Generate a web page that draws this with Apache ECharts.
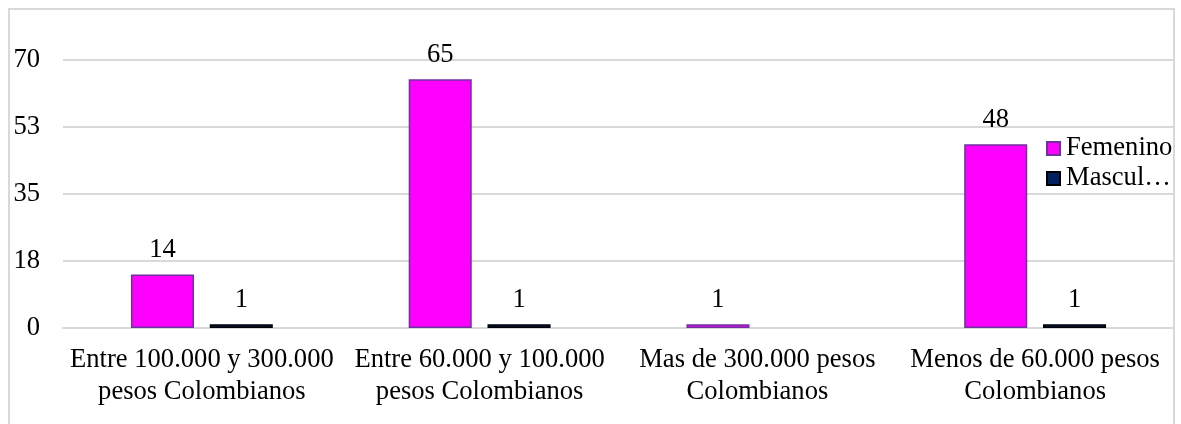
<!DOCTYPE html>
<html>
<head>
<meta charset="utf-8">
<script src="https://cdn.jsdelivr.net/npm/echarts@6/dist/echarts.min.js"></script>
<style>
  html, body { margin: 0; padding: 0; background: #ffffff; }
  #chart { width: 1181px; height: 424px; }
</style>
</head>
<body>
<div id="chart"></div>
<script>
// Income ranges (category axis), wrapped onto two lines
const categories = [
  'Entre 100.000 y 300.000\npesos Colombianos',
  'Entre 60.000 y 100.000\npesos Colombianos',
  'Mas de 300.000 pesos\nColombianos',
  'Menos de 60.000 pesos\nColombianos'
];
const seriesNames = ['Femenino', 'Masculino'];
const femenino = [14, 65, 1, 48];
const masculino = [1, 1, null, 1];
// Value axis: 0 to 70 in steps of 17.5, shown rounded
const yMin = 0;
const yMax = 70;
const yStep = 17.5;

const FONT = "'Liberation Serif', 'Times New Roman', serif";
const FS = 26.6;
const chart = echarts.init(document.getElementById('chart'), null, { renderer: 'canvas' });

const labelStyle = {
  show: true,
  position: 'top',
  distance: 11,
  color: '#000000',
  fontFamily: FONT,
  fontSize: FS
};

chart.setOption({
  animation: false,
  backgroundColor: '#ffffff',
  textStyle: { fontFamily: FONT },
  graphic: [{
    type: 'rect',
    silent: true,
    shape: { x: 9, y: 9, width: 1165, height: 440 },
    style: { fill: 'none', stroke: '#d9d9d9', lineWidth: 2 }
  }],
  grid: { left: 63, right: 7, top: 60, bottom: 96, containLabel: false },
  legend: {
    orient: 'vertical',
    left: 1041,
    top: 130,
    padding: 5,
    itemWidth: 13,
    itemHeight: 13,
    itemGap: 3,
    icon: 'rect',
    data: seriesNames,
    textStyle: {
      fontFamily: FONT,
      fontSize: FS,
      color: '#000000',
      lineHeight: 26,
      width: 110,
      overflow: 'truncate',
      ellipsis: '…',
      padding: [0, 0, 0, 1]
    }
  },
  xAxis: {
    type: 'category',
    data: categories,
    axisLine: { show: true, lineStyle: { color: '#d9d9d9', width: 2 } },
    axisTick: { show: false },
    axisLabel: {
      color: '#000000',
      fontFamily: FONT,
      fontSize: FS,
      lineHeight: 32,
      margin: 16,
      interval: 0
    }
  },
  yAxis: {
    type: 'value',
    min: yMin,
    max: yMax,
    interval: yStep,
    axisLine: { show: false },
    axisTick: { show: false },
    splitLine: { lineStyle: { color: '#d9d9d9', width: 2 } },
    axisLabel: {
      color: '#000000',
      fontFamily: FONT,
      fontSize: FS,
      margin: 23,
      formatter: v => String(Math.round(v))
    }
  },
  series: [
    {
      name: seriesNames[0],
      type: 'bar',
      data: femenino,
      barWidth: '22.7%',
      barGap: '25%',
      itemStyle: { color: '#ff00ff', borderColor: '#7030a0', borderWidth: 1.5 },
      label: labelStyle
    },
    {
      name: seriesNames[1],
      type: 'bar',
      data: masculino,
      barWidth: '22.7%',
      barGap: '25%',
      itemStyle: { color: '#002060', borderColor: '#000000', borderWidth: 1.5 },
      label: labelStyle
    }
  ]
});
</script>
</body>
</html>
